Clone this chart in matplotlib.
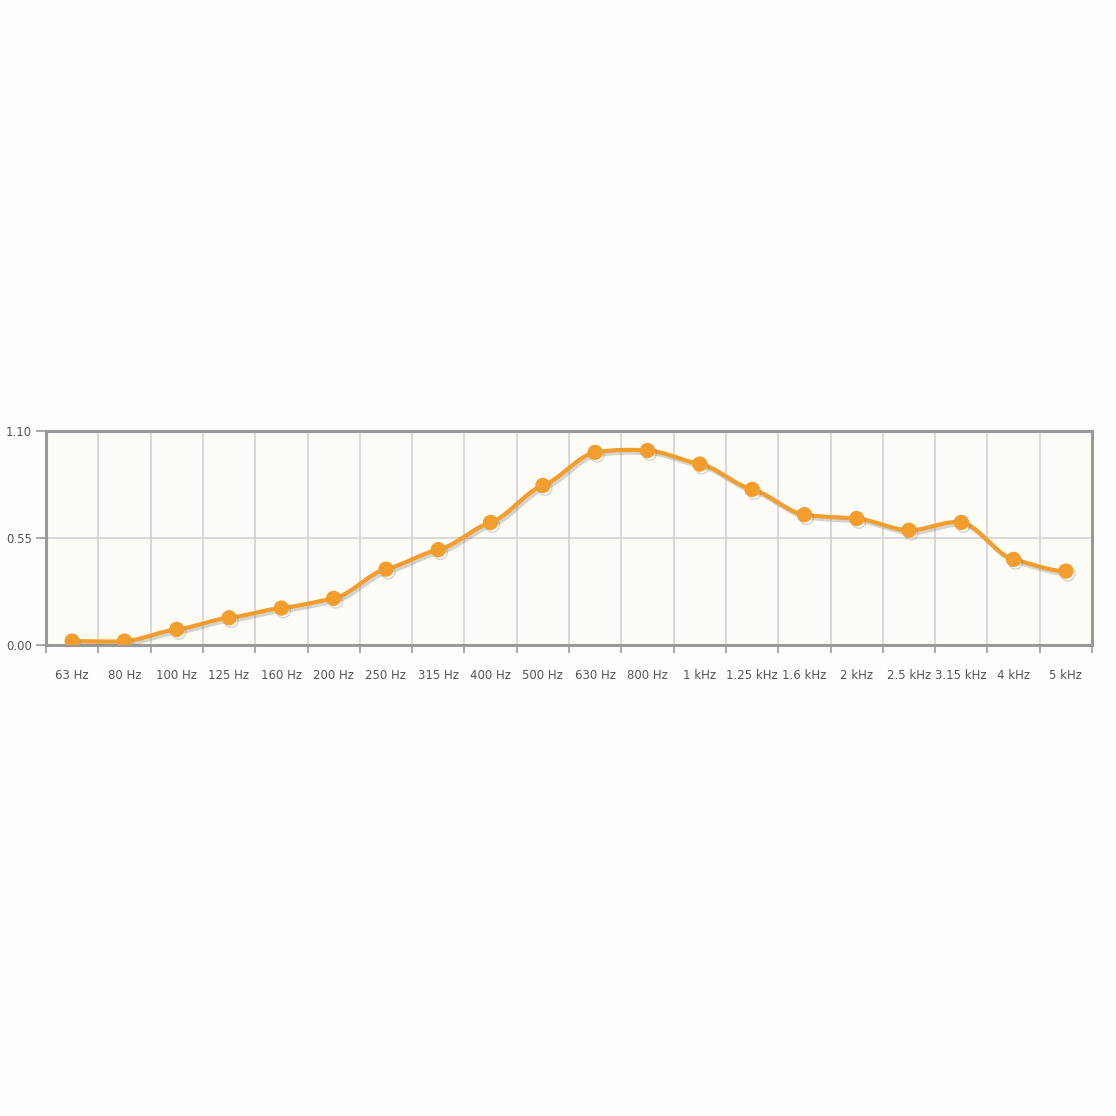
import numpy as np
import matplotlib

matplotlib.use("Agg")
import matplotlib.pyplot as plt
import matplotlib.patheffects as pe

bands = [
    "63 Hz", "80 Hz", "100 Hz", "125 Hz", "160 Hz", "200 Hz", "250 Hz",
    "315 Hz", "400 Hz", "500 Hz", "630 Hz", "800 Hz", "1 kHz", "1.25 kHz",
    "1.6 kHz", "2 kHz", "2.5 kHz", "3.15 kHz", "4 kHz", "5 kHz",
]
absorption = [
    0.02, 0.02, 0.08, 0.14, 0.19, 0.24, 0.39, 0.49, 0.63, 0.82,
    0.99, 1.00, 0.93, 0.80, 0.67, 0.65, 0.59, 0.63, 0.44, 0.38,
]
y_ticks = [0.0, 0.55, 1.10]
y_labels = ["0.00", "0.55", "1.10"]

ORANGE = "#f39d2c"


def smooth(x, y, n=12, tension=0.25):
    """Cardinal spline through the points, only for drawing the line."""
    x = np.asarray(x, float)
    y = np.asarray(y, float)
    xs, ys = [], []
    for i in range(len(x) - 1):
        x0, x1 = x[i], x[i + 1]
        y0, y1 = y[i], y[i + 1]
        m0 = tension * (y1 - y[i - 1]) if i > 0 else 0.0
        m1 = tension * (y[i + 2] - y0) if i < len(x) - 2 else 0.0
        t = np.linspace(0, 1, n, endpoint=False)
        h00 = 2 * t**3 - 3 * t**2 + 1
        h10 = t**3 - 2 * t**2 + t
        h01 = -2 * t**3 + 3 * t**2
        h11 = t**3 - t**2
        xs.append(x0 + t * (x1 - x0))
        ys.append(h00 * y0 + h10 * m0 + h01 * y1 + h11 * m1)
    xs.append([x[-1]])
    ys.append([y[-1]])
    return np.concatenate(xs), np.concatenate(ys)


fig = plt.figure(figsize=(11.16, 11.16), dpi=100, facecolor="#fefefe")
ax = fig.add_axes([46 / 1116, 471 / 1116, 1046 / 1116, 214 / 1116])
ax.set_facecolor("#fdfcf6")

pos = np.arange(len(bands))
sx, sy = smooth(pos, absorption)
shadow = [pe.SimpleLineShadow(offset=(1.5, -2), shadow_color="#777777", alpha=0.3), pe.Normal()]
ax.plot(sx, sy, color=ORANGE, lw=3, solid_capstyle="round", path_effects=shadow, zorder=3)
ax.plot(pos, absorption, "o", color=ORANGE, ms=10, mec=ORANGE, zorder=4,
        path_effects=shadow)

ax.set_xlim(-0.5, len(bands) - 0.5)
ax.set_ylim(0, 1.10)

# boundary ticks + grid, labels centred on categories
ax.set_xticks(np.arange(len(bands) + 1) - 0.5)
ax.set_xticklabels([])
ax.set_xticks(pos, minor=True)
ax.set_xticklabels(bands, minor=True, fontsize=8.5, color="#555555")
ax.tick_params(axis="x", which="minor", length=0, pad=17)
ax.tick_params(axis="x", which="major", length=6, width=1.5, color="#aaaaaa", direction="out")
ax.set_yticks(y_ticks, y_labels, fontsize=8.5, color="#555555")
ax.tick_params(axis="y", length=7, width=1.5, color="#aaaaaa", direction="out", pad=3)

ax.grid(True, which="major", color="#d2d2d2", lw=1.2)
ax.set_axisbelow(True)
for s in ax.spines.values():
    s.set_color("#999999")
    s.set_linewidth(2.2)

fig.savefig("out.png", dpi=100, facecolor=fig.get_facecolor())
